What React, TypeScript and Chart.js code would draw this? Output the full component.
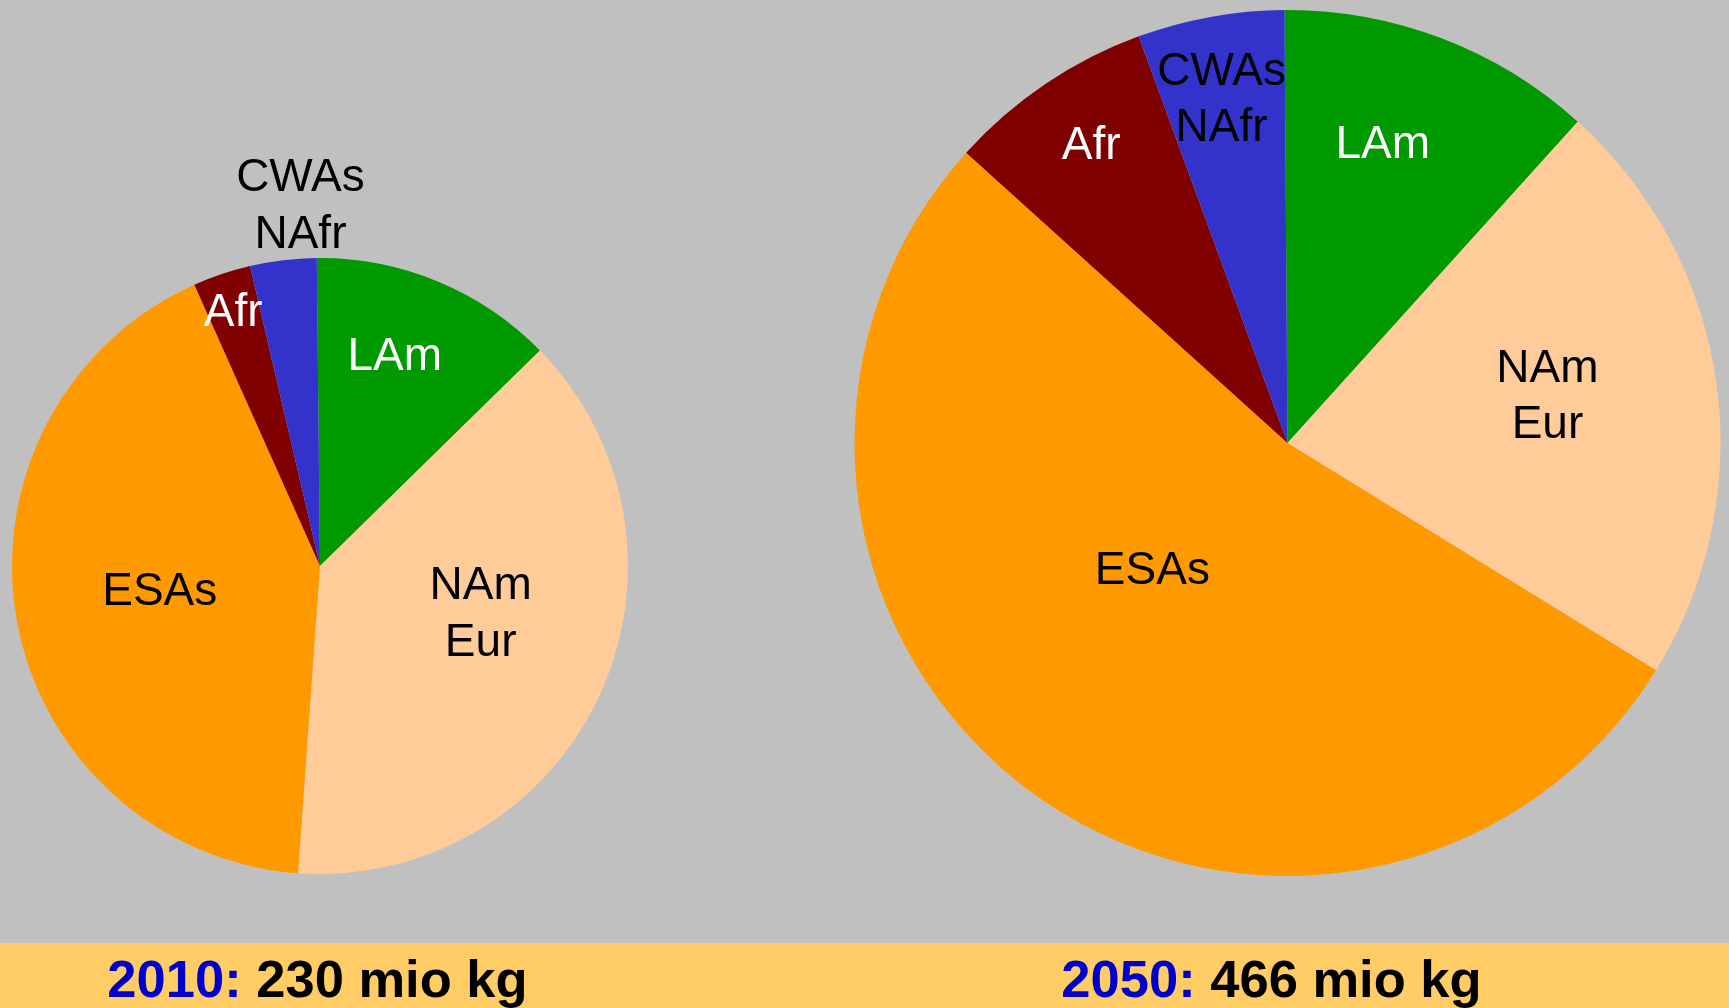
import React, { useEffect, useRef } from "react";
import { Chart, registerables } from "chart.js";

Chart.register(...registerables);

// ---- data ----
const regions = ["LAm", "NAm\nEur", "ESAs", "Afr", "CWAs\nNAfr"];
const values2010 = [29.5, 88.5, 97, 7, 8];
const values2050 = [55, 103, 246.5, 36, 25.5];
const years = ["2010", "2050"];
const unit = "mio kg";

// ---- styles ----
const sliceColors = ["#009900", "#ffcc99", "#ff9900", "#800000", "#3333cc"];
const labelColors = ["#ffffff", "#000000", "#000000", "#ffffff", "#000000"];
const FONT = '"Liberation Sans", Arial, Helvetica, sans-serif';
const W = 1729;
const PLOT_H = 943;

// label placement: angle offset from slice middle (deg, clockwise) and radius fraction
const labelAngleOffsets2010 = [-3.2, -9.2, 2.1, -0.2, 3.7];
const labelRadius2010 = [0.73, 0.54, 0.527, 0.88, 1.18];
const labelAngleOffsets2050 = [-3.4, -2.7, 10.6, 0.8, -0.6];
const labelRadius2050 = [0.73, 0.61, 0.425, 0.83, 0.815];

const pieLayouts = [
  { cx: 320, cy: 566, r: 308, rotation: -0.6 },
  { cx: 1287.5, cy: 443, r: 433, rotation: -0.4 },
];

function makeLabelPlugin(offsets: number[], fracs: number[]) {
  return {
    id: "sliceLabels",
    afterDatasetsDraw(chart: any) {
      const ctx = chart.ctx as CanvasRenderingContext2D;
      const meta = chart.getDatasetMeta(0);
      ctx.save();
      ctx.font = `46px ${FONT}`;
      ctx.textAlign = "center";
      ctx.textBaseline = "alphabetic";
      meta.data.forEach((arc: any, i: number) => {
        const p = arc.getProps(["x", "y", "startAngle", "endAngle", "outerRadius"], true);
        const mid = (p.startAngle + p.endAngle) / 2 + (offsets[i] * Math.PI) / 180;
        const rr = p.outerRadius * fracs[i];
        const px = p.x + Math.cos(mid) * rr + 0.5;
        const py = p.y + Math.sin(mid) * rr;
        const lines = regions[i].split("\n");
        const lh = 56.6;
        const capHalf = 16.5;
        ctx.fillStyle = labelColors[i];
        lines.forEach((ln, k) => {
          const cy = py + (k - (lines.length - 1) / 2) * lh;
          ctx.fillText(ln, px, cy + capHalf);
        });
      });
      ctx.restore();
    },
  };
}

function PieCanvas({ values, layout, offsets, fracs }: any) {
  const ref = useRef<HTMLCanvasElement | null>(null);
  useEffect(() => {
    if (!ref.current) return;
    const { cx, cy, r, rotation } = layout;
    const chart = new Chart(ref.current, {
      type: "pie",
      data: {
        labels: regions.map((s) => s.replace("\n", " ")),
        datasets: [
          {
            data: values,
            backgroundColor: sliceColors,
            borderWidth: 0,
            hoverOffset: 0,
            offset: 0,
          },
        ],
      },
      options: {
        responsive: false,
        animation: false,
        events: [],
        rotation,
        layout: {
          padding: {
            left: cx - r,
            right: W - (cx + r),
            top: cy - r,
            bottom: PLOT_H - (cy + r),
          },
        },
        plugins: {
          legend: { display: false },
          tooltip: { enabled: false },
          title: { display: false },
        },
      },
      plugins: [makeLabelPlugin(offsets, fracs)],
    });
    return () => chart.destroy();
  }, []);
  return (
    <canvas
      ref={ref}
      width={W}
      height={PLOT_H}
      style={{ position: "absolute", left: 0, top: 0, width: W, height: PLOT_H }}
    />
  );
}

const sum = (a: number[]) => Math.round(a.reduce((s, v) => s + v, 0));

export default function App() {
  const captions = [
    { year: years[0], total: sum(values2010), cx: 317.5 },
    { year: years[1], total: sum(values2050), cx: 1271.5 },
  ];
  return (
    <div
      style={{
        position: "fixed",
        left: 0,
        top: 0,
        width: W,
        height: 1008,
        background: "#c0c0c0",
        overflow: "hidden",
      }}
    >
      <PieCanvas values={values2010} layout={pieLayouts[0]} offsets={labelAngleOffsets2010} fracs={labelRadius2010} />
      <PieCanvas values={values2050} layout={pieLayouts[1]} offsets={labelAngleOffsets2050} fracs={labelRadius2050} />
      <div
        style={{
          position: "absolute",
          left: 0,
          top: PLOT_H,
          width: W,
          height: 1008 - PLOT_H,
          background: "#ffcc66",
        }}
      />
      {captions.map((c) => (
        <div
          key={c.year}
          style={{
            position: "absolute",
            left: c.cx - 400,
            width: 800,
            top: 952.6,
            textAlign: "center",
            fontFamily: FONT,
            fontWeight: "bold",
            fontSize: 52.5,
            lineHeight: "52px",
            whiteSpace: "nowrap",
            color: "#000000",
          }}
        >
          <span style={{ color: "#0000cc" }}>{c.year}:</span> {c.total} {unit}
        </div>
      ))}
    </div>
  );
}
